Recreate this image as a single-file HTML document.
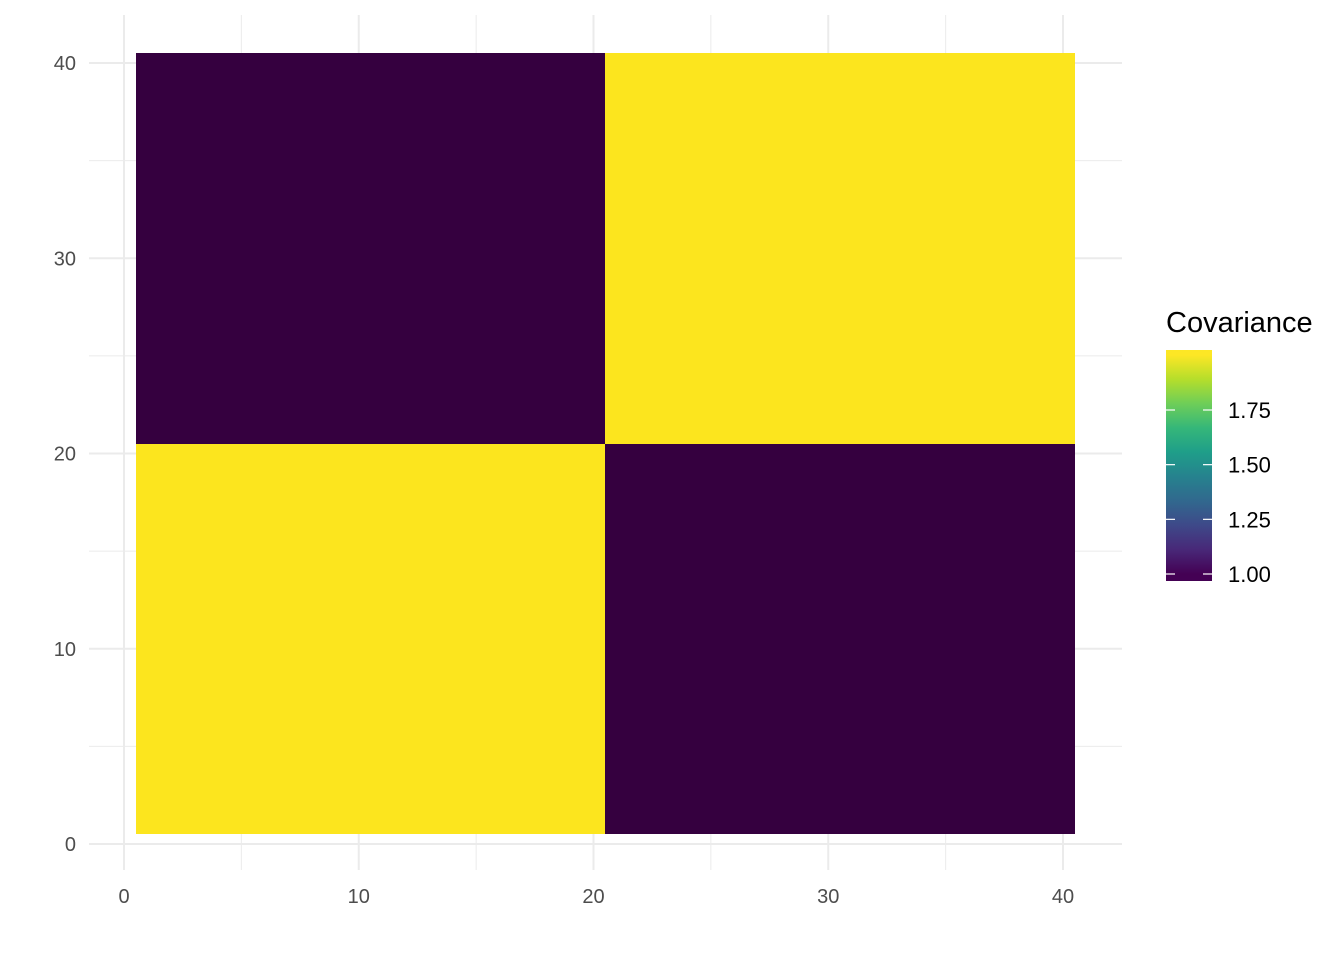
<!DOCTYPE html>
<html><head><meta charset="utf-8"><style>
body{margin:0;background:#fff;}
svg text{font-family:"Liberation Sans",Arial,sans-serif;}
</style></head><body>
<svg id="chart" width="1344" height="960" xmlns="http://www.w3.org/2000/svg">
<defs><linearGradient id="vir" gradientUnits="userSpaceOnUse" x1="0" y1="574" x2="0" y2="355">
<stop offset="0" stop-color="#440154"/><stop offset="0.111" stop-color="#482878"/><stop offset="0.222" stop-color="#3e4989"/><stop offset="0.333" stop-color="#31688e"/><stop offset="0.444" stop-color="#26828e"/><stop offset="0.556" stop-color="#1f9e89"/><stop offset="0.667" stop-color="#35b779"/><stop offset="0.778" stop-color="#6ece58"/><stop offset="0.889" stop-color="#b5de2b"/><stop offset="1" stop-color="#fde725"/>
</linearGradient></defs>
<g id="grid"></g><g id="cells" shape-rendering="crispEdges"></g><g id="axes"></g><g id="legend"></g>
</svg>
<script>
const xBlockStart=[0.5,20.5];
const xBlockEnd=[20.5,40.5];
const yBlockStart=[0.5,20.5];
const yBlockEnd=[20.5,40.5];
const blockValues=[[2,1],[1,2]]; // [yBlock][xBlock]
const xTicks=[0,10,20,30,40];
const yTicks=[0,10,20,30,40];
const legendTicks=[1.00,1.25,1.50,1.75];
const NS="http://www.w3.org/2000/svg";
const sx=v=>124+v*(1063-124)/40;
const sy=v=>844-v*(844-63)/40;
const ly=v=>574-(v-1)*(574-410)/0.75;
function mk(t,a,p){const e=document.createElementNS(NS,t);for(const k in a)e.setAttribute(k,a[k]);p.appendChild(e);return e;}
const grid=document.getElementById('grid'),cells=document.getElementById('cells'),axes=document.getElementById('axes'),leg=document.getElementById('legend');
const PX0=89,PX1=1122,PY0=15,PY1=870;
for(let i=0;i<xTicks.length;i++){const v=xTicks[i];
 const l=mk('line',{x1:sx(v),x2:sx(v),y1:PY0,y2:PY1,stroke:'#ebebeb','stroke-width':2},grid);
 
 if(i<xTicks.length-1){const m=(v+xTicks[i+1])/2;const l2=mk('line',{x1:sx(m),x2:sx(m),y1:PY0,y2:PY1,stroke:'#ebebeb','stroke-width':1},grid);
 }
 const t=mk('text',{x:sx(v),y:903,'text-anchor':'middle','font-size':20,fill:'#4d4d4d'},axes);t.textContent=v;
 }
for(let i=0;i<yTicks.length;i++){const v=yTicks[i];
 const l=mk('line',{x1:PX0,x2:PX1,y1:sy(v),y2:sy(v),stroke:'#ebebeb','stroke-width':2},grid);
 
 if(i<yTicks.length-1){const m=(v+yTicks[i+1])/2;const l2=mk('line',{x1:PX0,x2:PX1,y1:sy(m),y2:sy(m),stroke:'#ebebeb','stroke-width':1},grid);
 }
 const t=mk('text',{x:76,y:sy(v)+7,'text-anchor':'end','font-size':20,fill:'#4d4d4d'},axes);t.textContent=v;
 }
for(let yi=0;yi<blockValues.length;yi++)for(let xi=0;xi<blockValues[yi].length;xi++){
 const v=blockValues[yi][xi];
 const x0=Math.round(sx(xBlockStart[xi])),x1=Math.round(sx(xBlockEnd[xi])),y0=Math.round(sy(yBlockEnd[yi])),y1=Math.round(sy(yBlockStart[yi]));
 const r=mk('rect',{x:x0,y:y0,width:x1-x0,height:y1-y0,fill:v>=1.5?'#fce51e':'#35003f'},cells);
 }
const tt=mk('text',{x:1166,y:332,'font-size':29,fill:'#000'},leg);tt.textContent='Covariance';

const cb=mk('rect',{x:1166,y:350,width:46,height:231,fill:'url(#vir)'},leg);

for(const v of legendTicks){const y=ly(v);
 mk('line',{x1:1166,x2:1175,y1:y,y2:y,stroke:'#fff','stroke-width':1.2},leg);
 mk('line',{x1:1203,x2:1212,y1:y,y2:y,stroke:'#fff','stroke-width':1.2},leg);
 const t=mk('text',{x:1228,y:y+8,'font-size':22,fill:'#000'},leg);t.textContent=v.toFixed(2);
 }
</script>
</body></html>
